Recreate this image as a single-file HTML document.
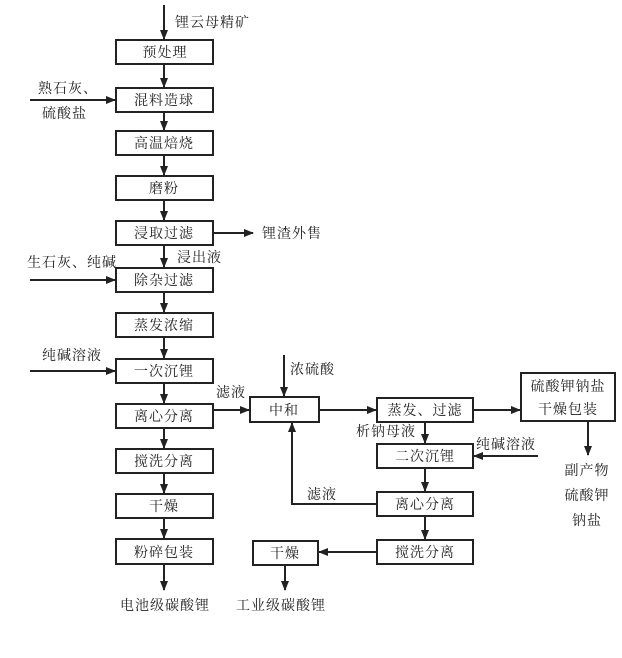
<!DOCTYPE html>
<html><head><meta charset="utf-8"><style>
html,body{margin:0;padding:0;background:#fff;}
svg text{font-family:"Liberation Serif","Noto Serif CJK SC",serif;font-size:14px;fill:#222;letter-spacing:1px;}
</style></head><body>
<svg width="622" height="653" viewBox="0 0 622 653" xmlns="http://www.w3.org/2000/svg">
<defs><marker id="a" markerWidth="10" markerHeight="8" refX="9" refY="4" orient="auto" markerUnits="userSpaceOnUse"><path d="M0,0 L10,4 L0,8 Z" fill="#222"/></marker></defs>
<g fill="none" stroke="#222" stroke-width="2">
<rect x="116" y="40" width="97" height="24"/>
<rect x="116" y="88" width="97" height="24"/>
<rect x="116" y="131" width="97" height="24"/>
<rect x="116" y="176" width="97" height="24"/>
<rect x="116" y="221" width="97" height="24"/>
<rect x="116" y="268" width="97" height="24"/>
<rect x="116" y="313" width="97" height="24"/>
<rect x="116" y="359" width="97" height="24"/>
<rect x="116" y="404" width="97" height="24"/>
<rect x="116" y="449" width="97" height="24"/>
<rect x="116" y="494" width="97" height="24"/>
<rect x="116" y="539" width="97" height="25"/>
<rect x="250" y="397" width="69" height="25"/>
<rect x="377" y="398" width="96" height="24"/>
<rect x="521" y="373" width="94" height="48"/>
<rect x="377" y="444" width="96" height="24"/>
<rect x="377" y="492" width="96" height="24"/>
<rect x="377" y="540" width="96" height="24"/>
<rect x="253" y="541" width="65" height="24"/>
</g>
<g stroke="#222" stroke-width="2" marker-end="url(#a)">
<line x1="164" y1="5" x2="164" y2="39"/>
<line x1="164" y1="64" x2="164" y2="87"/>
<line x1="164" y1="112" x2="164" y2="130"/>
<line x1="164" y1="155" x2="164" y2="175"/>
<line x1="164" y1="200" x2="164" y2="220"/>
<line x1="164" y1="245" x2="164" y2="267"/>
<line x1="164" y1="292" x2="164" y2="312"/>
<line x1="164" y1="337" x2="164" y2="358"/>
<line x1="164" y1="383" x2="164" y2="403"/>
<line x1="164" y1="428" x2="164" y2="448"/>
<line x1="164" y1="473" x2="164" y2="493"/>
<line x1="164" y1="518" x2="164" y2="538"/>
<line x1="164" y1="564" x2="164" y2="590"/>
<line x1="30" y1="100" x2="115" y2="100"/>
<line x1="30" y1="280" x2="115" y2="280"/>
<line x1="30" y1="371" x2="115" y2="371"/>
<line x1="213" y1="233" x2="253" y2="233"/>
<line x1="213" y1="410" x2="249" y2="410"/>
<line x1="284" y1="355" x2="284" y2="396"/>
<line x1="319" y1="410" x2="376" y2="410"/>
<line x1="473" y1="410" x2="520" y2="410"/>
<line x1="588" y1="421" x2="588" y2="455"/>
<line x1="425" y1="422" x2="425" y2="443"/>
<line x1="538" y1="456" x2="474" y2="456"/>
<line x1="425" y1="468" x2="425" y2="491"/>
<line x1="425" y1="516" x2="425" y2="539"/>
<line x1="377" y1="552" x2="319" y2="552"/>
<line x1="285" y1="565" x2="285" y2="590"/>
<polyline fill="none" points="377,504 292,504 292,423"/>
</g>
<text x="175" y="27">锂云母精矿</text>
<text x="150" y="57" text-anchor="middle" dx="15">预处理</text>
<text x="164" y="105" text-anchor="middle">混料造球</text>
<text x="164" y="148" text-anchor="middle">高温焙烧</text>
<text x="164" y="193" text-anchor="middle">磨粉</text>
<text x="164" y="238" text-anchor="middle">浸取过滤</text>
<text x="164" y="285" text-anchor="middle">除杂过滤</text>
<text x="164" y="330" text-anchor="middle">蒸发浓缩</text>
<text x="164" y="376" text-anchor="middle">一次沉锂</text>
<text x="164" y="421" text-anchor="middle">离心分离</text>
<text x="164" y="466" text-anchor="middle">搅洗分离</text>
<text x="164" y="511" text-anchor="middle">干燥</text>
<text x="164" y="557" text-anchor="middle">粉碎包装</text>
<text x="165" y="610" text-anchor="middle">电池级碳酸锂</text>
<text x="38" y="93">熟石灰、</text>
<text x="42" y="118">硫酸盐</text>
<text x="262" y="238">锂渣外售</text>
<text x="177" y="262">浸出液</text>
<text x="27" y="267">生石灰、纯碱</text>
<text x="42" y="360">纯碱溶液</text>
<text x="216" y="397">滤液</text>
<text x="290" y="374">浓硫酸</text>
<text x="284" y="415" text-anchor="middle">中和</text>
<text x="425" y="415" text-anchor="middle">蒸发、过滤</text>
<text x="568" y="391" text-anchor="middle">硫酸钾钠盐</text>
<text x="568" y="414" text-anchor="middle">干燥包装</text>
<text x="356" y="436">析钠母液</text>
<text x="476" y="449">纯碱溶液</text>
<text x="425" y="461" text-anchor="middle">二次沉锂</text>
<text x="307" y="499">滤液</text>
<text x="425" y="509" text-anchor="middle">离心分离</text>
<text x="425" y="557" text-anchor="middle">搅洗分离</text>
<text x="285" y="558" text-anchor="middle">干燥</text>
<text x="281" y="610" text-anchor="middle">工业级碳酸锂</text>
<text x="587" y="475" text-anchor="middle">副产物</text>
<text x="587" y="500" text-anchor="middle">硫酸钾</text>
<text x="587" y="525" text-anchor="middle">钠盐</text>
</svg>
</body></html>
